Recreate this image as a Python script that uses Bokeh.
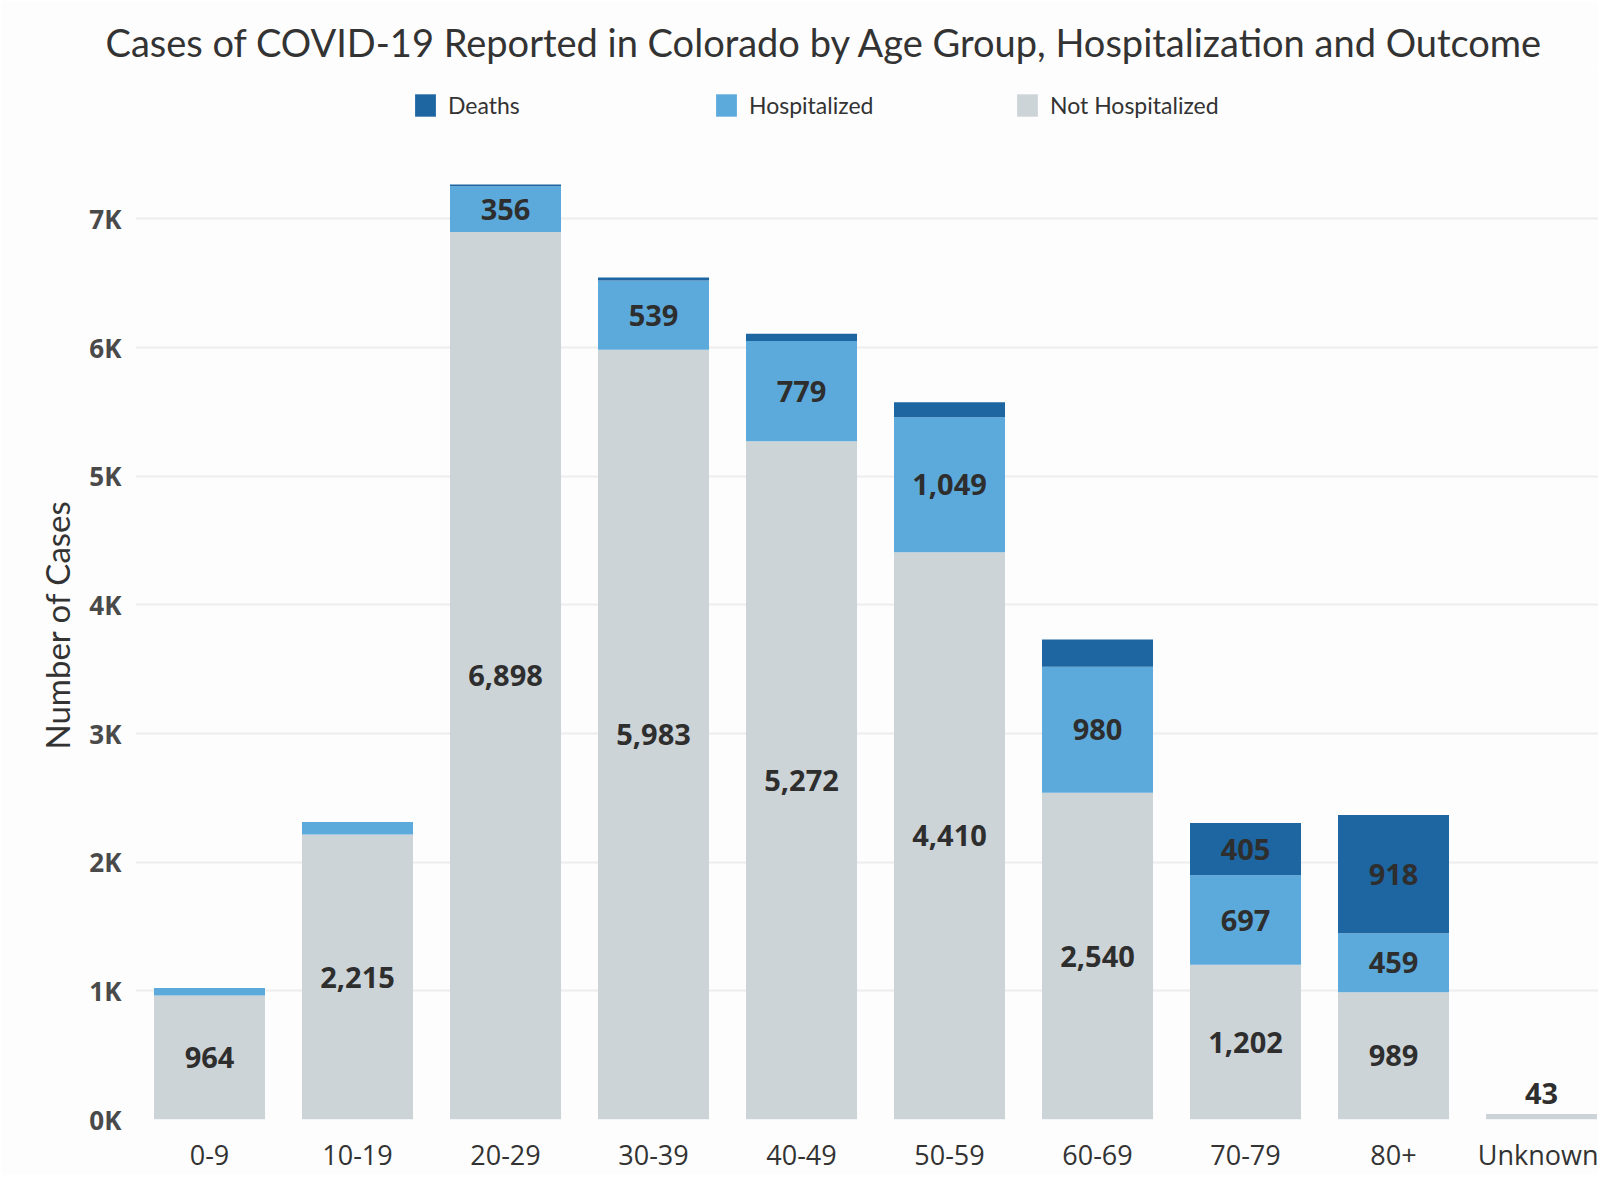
from bokeh.plotting import figure
from bokeh.models import Range1d, FixedTicker, Legend, LegendItem, ColumnDataSource, Title
from bokeh.embed import file_html
from bokeh.resources import INLINE
from bokeh.core.properties import value

# ---------------- data ----------------
age_groups = ["0-9", "10-19", "20-29", "30-39", "40-49", "50-59", "60-69", "70-79", "80+", "Unknown"]
not_hospitalized = [964, 2215, 6898, 5983, 5272, 4410, 2540, 1202, 989, 43]
hospitalized = [58, 97, 356, 539, 779, 1049, 980, 697, 459, 0]
deaths = [0, 1, 14, 22, 57, 117, 212, 405, 918, 0]
y_ticks = [0, 1000, 2000, 3000, 4000, 5000, 6000, 7000]
y_tick_labels = ["0K", "1K", "2K", "3K", "4K", "5K", "6K", "7K"]
series_names = ["Deaths", "Hospitalized", "Not Hospitalized"]

title_text = "Cases of COVID-19 Reported in Colorado by Age Group, Hospitalization and Outcome"
y_title = "Number of Cases"

# ---------------- style ----------------
C_DEATH = "#1d66a2"
C_HOSP = "#5caadb"
C_NOT = "#cdd4d8"
BG = "#fdfdfd"
NARROW = "Lato"
NUMF = "Open Sans"

xs = list(range(len(age_groups)))
src = ColumnDataSource(dict(x=xs, nh=not_hospitalized, h=hospitalized, d=deaths))

p = figure(width=1598, height=1175, title_location=None,
           x_range=Range1d(-0.5, 9.385), y_range=Range1d(0, 8154),
           output_backend="svg", toolbar_location=None,
           min_border_left=135, min_border_right=0, min_border_top=70, min_border_bottom=52)
p.background_fill_color = BG
p.border_fill_color = BG
p.outline_line_color = None

rs = p.vbar_stack(["nh", "h", "d"], x="x", width=0.75, source=src,
                  color=[C_NOT, C_HOSP, C_DEATH], line_color=None)
r_nh, r_h, r_d = rs

# segment labels
lx, ly, lt = [], [], []
ax, ay, at = [], [], []
MIN_SEG = 300
for i in xs:
    base = 0
    for j, v in enumerate((not_hospitalized[i], hospitalized[i], deaths[i])):
        if v >= MIN_SEG:
            lx.append(i); ly.append(base + v / 2); lt.append(f"{v:,}")
        elif j == 0 and v > 0:
            ax.append(i); ay.append(base + v); at.append(f"{v:,}")
        base += v

p.text(x=lx, y=ly, text=lt, text_align="center", text_baseline="middle",
       text_font=value(NUMF), text_font_size="29px", text_font_style="bold", text_color="#2e2e2e")
p.text(x=ax, y=ay, text=at, text_align="center", text_baseline="bottom", y_offset=-10,
       text_font=value(NUMF), text_font_size="29px", text_font_style="bold", text_color="#2e2e2e")

# axes
p.yaxis.ticker = FixedTicker(ticks=y_ticks)
p.yaxis.major_label_overrides = {t: l for t, l in zip(y_ticks, y_tick_labels)}
p.yaxis.axis_line_color = None
p.yaxis.major_tick_line_color = None
p.yaxis.minor_tick_line_color = None
p.yaxis.major_label_text_font = NUMF
p.yaxis.major_label_text_font_size = "26px"
p.yaxis.major_label_text_font_style = "bold"
p.yaxis.major_label_text_color = "#4a4a4a"
p.yaxis.major_label_standoff = 8

p.xaxis.ticker = FixedTicker(ticks=xs)
p.xaxis.major_label_overrides = {i: g for i, g in zip(xs, age_groups)}
p.xaxis.axis_line_color = None
p.xaxis.major_tick_line_color = None
p.xaxis.minor_tick_line_color = None
p.xaxis.major_label_text_font = NUMF
p.xaxis.major_label_text_font_size = "27px"
p.xaxis.major_label_text_color = "#333333"
p.xaxis.major_label_standoff = 10

p.xgrid.grid_line_color = None
p.ygrid.grid_line_color = "#ededed"
p.ygrid.grid_line_width = 2

# y axis title, as a side title placed outside the tick labels
p.add_layout(Title(text=y_title, align="left", offset=370, standoff=20,
                   vertical_align="bottom", text_font=NARROW, text_font_size="33px",
                   text_font_style="normal", text_color="#333333"), "left")

# main title
p.add_layout(Title(text=title_text, align="left", offset=-30, standoff=12,
                   vertical_align="bottom", text_font=NARROW, text_font_size="38px",
                   text_font_style="normal", text_color="#333333"), "above")

# legend
legend = Legend(items=[LegendItem(label=series_names[0], renderers=[r_d]),
                       LegendItem(label=series_names[1], renderers=[r_h]),
                       LegendItem(label=series_names[2], renderers=[r_nh])],
                orientation="horizontal", location=(277, 1000), margin=0, padding=0,
                spacing=10, glyph_width=26, glyph_height=28, label_standoff=10,
                label_width=255, border_line_color=None, background_fill_alpha=0,
                label_text_font=NARROW, label_text_font_size="23px",
                label_text_color="#333333")
p.add_layout(legend)

open("out.html", "w").write(file_html(p, INLINE))
